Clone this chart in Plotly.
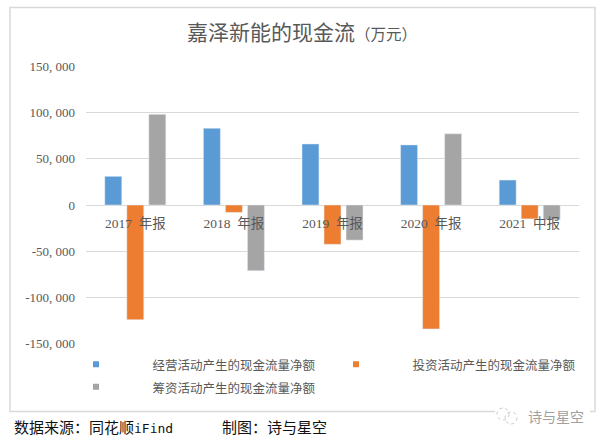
import plotly.graph_objects as go

categories = ["2017 \u00a0年报", "2018 \u00a0年报", "2019 \u00a0年报", "2020 \u00a0年报", "2021 \u00a0中报"]
operating = [31000, 83000, 66000, 65000, 27000]
investing = [-124000, -8000, -42500, -134000, -15000]
financing = [98000, -71000, -38000, 77000, -16000]
series_names = ["经营活动产生的现金流量净额", "投资活动产生的现金流量净额", "筹资活动产生的现金流量净额"]
colors = ["#5B9BD5", "#ED7D31", "#A5A5A5"]
tick_values = [150000, 100000, 50000, 0, -50000, -100000, -150000]
tick_labels = ["150, 000", "100, 000", "50, 000", "0", "-50, 000", "-100, 000", "-150, 000"]

W, H = 605, 443
L, R, T, B = 86, 26, 66, 99
CJK = "Noto Sans CJK SC, sans-serif"
FONT = "Liberation Serif, " + CJK
PAD = "\u00a0" * 13
px = lambda x: (x - L) / (W - L - R)
py = lambda y: 1 - (y - T) / (H - T - B)

fig = go.Figure()
for name, vals, col in zip(series_names, [operating, investing, financing], colors):
    fig.add_trace(go.Bar(x=categories, y=vals, marker_color=col, name=name, showlegend=False))
for name, col in zip(series_names, colors):
    fig.add_trace(go.Scatter(x=[None], y=[None], mode="markers", showlegend=True,
                             marker=dict(symbol="square", size=6, color=col),
                             name=f'<span style="font-size:12.5px">{PAD}{name}</span>'))

notes = [
    (185, 33, "嘉泽新能的现金流<span style='font-size:15.5px'>（万元）</span>", 21, "#595959"),
    (12, 428, "数据来源：同花顺<span style='font-family:DejaVu Sans Mono;font-size:13px'>iFind</span>", 15, "#111111"),
    (220, 428, "制图：诗与星空", 15, "#111111"),
    (526, 417, "诗与星空", 14, "#a0a0a0"),
]
annotations = [dict(x=px(x), y=py(y), xref="paper", yref="paper", xanchor="left", yanchor="middle",
                    text=t, showarrow=False, font=dict(size=s, color=c, family=FONT))
               for x, y, t, s, c in notes]

fig.update_layout(
    width=W, height=H, margin=dict(l=L, r=R, t=T, b=B, pad=0, autoexpand=False),
    paper_bgcolor="white", plot_bgcolor="white",
    barmode="group", bargap=0.33, bargroupgap=0.23,
    font=dict(family=FONT, color="#595959", size=13),
    xaxis=dict(type="category", categoryorder="array", categoryarray=categories,
               anchor="free", position=0.5, showline=False, ticks="", showgrid=False,
               tickfont=dict(size=13.5, color="#595959", family=FONT), ticklabelstandoff=8, layer="above traces"),
    yaxis=dict(range=[-150300, 150300], tickvals=tick_values, ticktext=tick_labels, showgrid=True,
               gridcolor="#D9D9D9", gridwidth=1, zeroline=True, zerolinecolor="#D9D9D9", zerolinewidth=1,
               showline=False, ticks="", ticklabelstandoff=10, tickfont=dict(size=13, color="#595959", family=FONT)),
    legend=dict(orientation="h", x=px(76), y=py(348), xanchor="left", yanchor="top",
                itemwidth=30, entrywidth=215, entrywidthmode="pixels", itemclick=False,
                font=dict(size=15, color="#595959", family=CJK), bgcolor="rgba(0,0,0,0)"),
    shapes=[dict(type="rect", xref="paper", yref="paper", x0=px(10), x1=px(595), y0=py(7.5), y1=py(411.5),
                 line=dict(color="#D9D9D9", width=1.5), fillcolor="rgba(0,0,0,0)", layer="below"),
            dict(type="rect", xref="paper", yref="paper", x0=px(495), x1=px(590), y0=py(408), y1=py(415),
                 line=dict(width=0), fillcolor="white", layer="below"),
            dict(type="circle", xref="paper", yref="paper", x0=px(497), x1=px(509), y0=py(408), y1=py(420),
                 line=dict(color="#c8c8c8", width=1, dash="dot"), layer="above"),
            dict(type="circle", xref="paper", yref="paper", x0=px(505), x1=px(517), y0=py(412), y1=py(424),
                 line=dict(color="#c8c8c8", width=1, dash="dot"), layer="above")],
    annotations=annotations,
)
fig.write_html("out.html", config={"displayModeBar": False},
               post_script="document.body.style.margin='0';document.documentElement.style.overflow='hidden';")
